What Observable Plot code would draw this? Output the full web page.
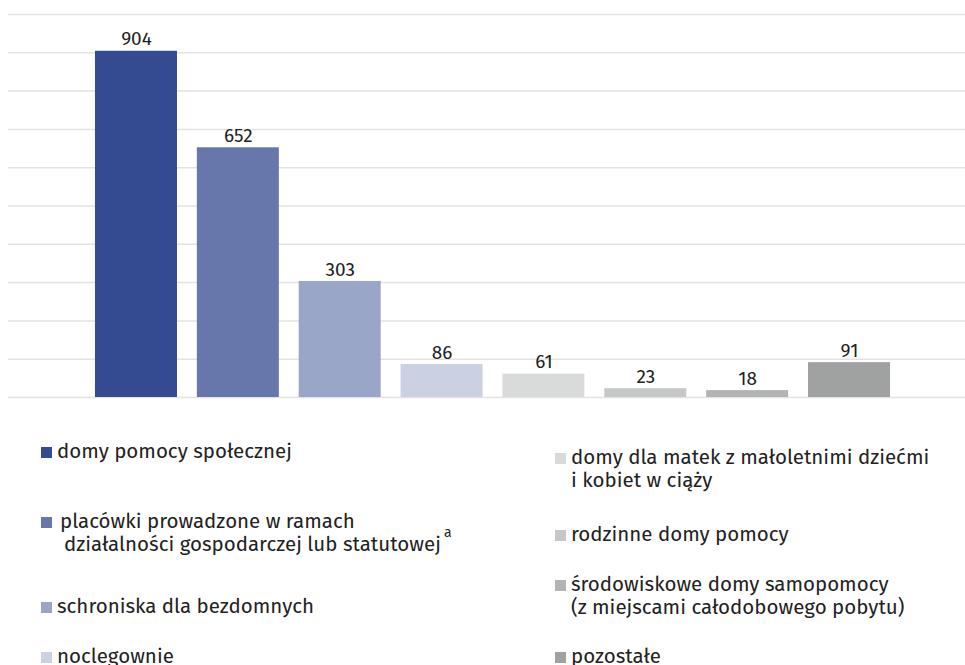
<!DOCTYPE html>
<html>
<head>
<meta charset="utf-8">
<script src="https://cdn.jsdelivr.net/npm/d3@7"></script>
<script src="https://cdn.jsdelivr.net/npm/@observablehq/plot@0.6"></script>
<style>
  html, body { margin: 0; padding: 0; background: #fff; }
  body { width: 965px; height: 665px; overflow: hidden; font-family: "Fira Sans", "Noto Sans", sans-serif; }
  #legend { position: relative; height: 255px; color: #222; font-size: 20.5px; line-height: 23px; }
  .item { position: absolute; display: flex; align-items: flex-start; white-space: nowrap; }
  .sw { width: 11px; height: 11px; margin-top: 7px; margin-right: 5px; flex: none; }
  .indent1 { padding-left: 3px; }
  .indent2 { padding-left: 7px; }
  sup { font-size: 14px; vertical-align: 14px; line-height: 0; margin-left: 3px; }
</style>
</head>
<body>
<div id="chart"></div>
<div id="legend"></div>
<script>
const categories = [
  "domy pomocy społecznej",
  "placówki prowadzone w ramach działalności gospodarczej lub statutowej",
  "schroniska dla bezdomnych",
  "noclegownie",
  "domy dla matek z małoletnimi dziećmi i kobiet w ciąży",
  "rodzinne domy pomocy",
  "środowiskowe domy samopomocy (z miejscami całodobowego pobytu)",
  "pozostałe"
];
const values = [904, 652, 303, 86, 61, 23, 18, 91];
const colors = ["#344a91", "#6877ab", "#9aa6c8", "#cbd1e3", "#d9dbdb", "#c6c7c7", "#b2b3b3", "#a0a1a1"];
const legendLines = [
  ["domy pomocy społecznej"],
  ["placówki prowadzone w ramach", "działalności gospodarczej lub statutowej"],
  ["schroniska dla bezdomnych"],
  ["noclegownie"],
  ["domy dla matek z małoletnimi dziećmi", "i kobiet w ciąży"],
  ["rodzinne domy pomocy"],
  ["środowiskowe domy samopomocy", "(z miejscami całodobowego pobytu)"],
  ["pozostałe"]
];
const gridTicks = d3.range(0, 1001, 100);

const data = categories.map((c, i) => ({category: c, value: values[i], color: colors[i]}));

const chart = Plot.plot({
  width: 965,
  height: 410,
  marginTop: 14,
  marginBottom: 13,
  marginLeft: 8,
  marginRight: 0,
  style: {fontFamily: "'Fira Sans', 'Noto Sans', sans-serif", background: "#fff"},
  x: {domain: categories, paddingInner: 0.195, paddingOuter: 0.795, align: 0.537, round: false, axis: null},
  y: {domain: [0, 1000], axis: null},
  marks: [
    Plot.ruleY(gridTicks, {stroke: "#e3e3e3", strokeWidth: 1.5}),
    Plot.barY(data, {x: "category", y: "value", fill: "color"}),
    Plot.text(data, {x: "category", y: "value", text: d => String(d.value), dy: -12, fontSize: 19, fill: "#222"})
  ]
});
document.getElementById("chart").appendChild(chart);

// legend placement (top offsets relative to legend container)
const pos = [
  {left: 41, top: 30}, {left: 41, top: 100}, {left: 41, top: 185}, {left: 41, top: 235},
  {left: 555, top: 36}, {left: 555, top: 113}, {left: 555, top: 163}, {left: 555, top: 235}
];
const legend = document.getElementById("legend");
categories.forEach((c, i) => {
  const item = document.createElement("div");
  item.className = "item";
  item.style.left = pos[i].left + "px";
  item.style.top = pos[i].top + "px";
  const sw = document.createElement("div");
  sw.className = "sw";
  sw.style.background = colors[i];
  item.appendChild(sw);
  const txt = document.createElement("div");
  if (i === 1) {
    txt.innerHTML = `<div class="indent1">${legendLines[i][0]}</div><div class="indent2">${legendLines[i][1]}<sup>a</sup></div>`;
  } else {
    txt.innerHTML = legendLines[i].join("<br>");
  }
  item.appendChild(txt);
  legend.appendChild(item);
});
</script>
</body>
</html>
